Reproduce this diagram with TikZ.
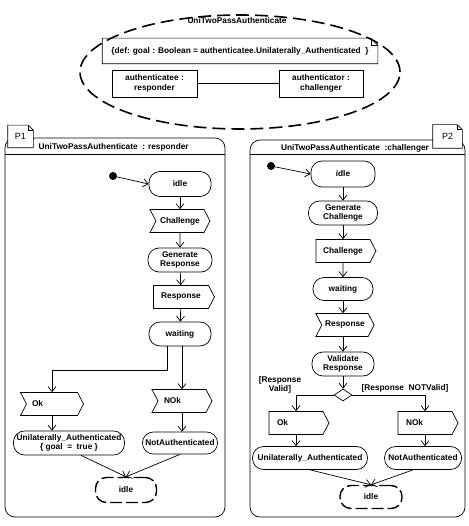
\documentclass[tikz,border=0pt]{standalone}
\usepackage{fontspec}
\setmainfont{Liberation Sans}
\usetikzlibrary{arrows.meta, shapes.geometric, shapes.symbols}

\tikzset{
  state/.style={rectangle, draw, rounded corners=11, minimum height=24, inner xsep=3},
  sendsig/.style={signal, draw, signal to=east, signal pointer angle=125, minimum height=23, align=left},
  recvsig/.style={signal, draw, signal from=west, signal pointer angle=125, minimum height=23, align=left},
  finstate/.style={state, line width=1.4pt, dash pattern=on 12pt off 4pt},
  initdot/.style={circle, fill, inner sep=0, minimum size=8},
  arr/.style={-{Straight Barb[length=5pt,width=8pt]}},
  tab/.style={fill=white, minimum width=25, minimum height=22, font=\fontsize{9}{10}\selectfont}
}

\begin{document}
\begin{tikzpicture}[x=1pt, y=-1pt, line width=0.7pt,
    every node/.style={font=\fontsize{8.3}{9.6}\selectfont\bfseries, align=center}]
  \useasboundingbox (0,0) rectangle (468,526);

  % collaboration
  \node[ellipse, draw, line width=1.6pt, dash pattern=on 13pt off 6pt, minimum width=320, minimum height=114] at (240,72) (coll) {};
  \node at (237,21) (colltitle) {UniTwoPassAuthenticate};
  \node[minimum width=275, minimum height=25] at (240,51) (goal) {\{def: goal : Boolean = authenticatee.Unilaterally\_Authenticated~~\}};
  \draw (goal.south west) -- (goal.north west) -- ([xshift=-7]goal.north east) -- ([yshift=-7]goal.north east) -- (goal.south east) -- cycle;
  \draw ([xshift=-7]goal.north east) |- ([yshift=-7]goal.north east);
  \node[draw, minimum width=85, minimum height=27] at (154.5,83.5) (ratee) {authenticatee :\\responder};
  \node[draw, minimum width=84, minimum height=27] at (321,83.5) (rator) {authenticator :\\challenger};
  \draw (ratee) -- (rator);

  % responder
  \draw[rounded corners=10] (5,138) rectangle (225,517);
  \draw (5,154) -- (225,154);
  \node[tab] at (20.5,136.5) (p1) {P1};
  \draw (p1.south west) -- (p1.north west) -- ([xshift=-5]p1.north east) -- ([yshift=-5]p1.north east) -- (p1.south east) -- cycle;
  \draw ([xshift=-5]p1.north east) |- ([yshift=-5]p1.north east);
  \node[anchor=west] at (35,147) (rtitle) {UniTwoPassAuthenticate~~: responder};

  \node[initdot] at (113,176) (rinit) {};
  \node[state, minimum width=62, minimum height=25] at (180,184) (ridle) {idle};
  \node[recvsig, minimum width=60] at (180,221) (rchal) {Challenge};
  \node[state, minimum width=64] at (180,260) (rgen) {Generate\\Response};
  \node[sendsig, minimum width=61] at (181,297) (rresp) {Response};
  \node[state, minimum width=62] at (180,334) (rwait) {waiting};
  \node[recvsig, minimum width=63, text width=40] at (52,404) (rok) {Ok};
  \node[recvsig, minimum width=60, text width=36] at (182,401) (rnok) {NOk};
  \node[state, minimum width=111] at (69,443) (rua) {Unilaterally\_Authenticated\\\{ goal~~=~~true \}};
  \node[state, minimum width=75, minimum height=22] at (180,443) (rna) {NotAuthenticated};
  \node[finstate, minimum width=61, minimum height=25] at (126,490) (rfin) {idle};

  \draw[arr] (rinit) -- (ridle.west);
  \draw[arr] (ridle) -- (rchal);
  \draw[arr] (rchal) -- (rgen);
  \draw[arr] (rgen) -- (rresp);
  \draw[arr] (rresp) -- (rwait);
  \draw[arr] ([xshift=-13]rwait.south) -- ++(0,24) -| (rok.north);
  \draw[arr] (rnok.north |- rwait.south) -- (rnok.north);
  \draw[arr] (rok.south) -- (rok.south |- rua.north);
  \draw[arr] (rnok.south) -- (rnok.south |- rna.north);
  \draw[arr] ([xshift=12]rua.south) -- (rfin.north);
  \draw[arr] (rna.south) -- (rfin.north);

  % challenger
  \draw[rounded corners=10] (250,140) rectangle (465,517);
  \draw (250,154) -- (465,154);
  \node[tab, minimum width=29, minimum height=23] at (447.5,136.5) (p2) {P2};
  \draw (p2.south west) -- (p2.north west) -- ([xshift=-5]p2.north east) -- ([yshift=-5]p2.north east) -- (p2.south east) -- cycle;
  \draw ([xshift=-5]p2.north east) |- ([yshift=-5]p2.north east);
  \node at (355,148) (ctitle) {UniTwoPassAuthenticate~~:challenger};

  \node[initdot] at (271,166) (cinit) {};
  \node[state, minimum width=64, minimum height=26] at (343,174) (cidle) {idle};
  \node[state, minimum width=69] at (343,213) (cgen) {Generate\\Challenge};
  \node[sendsig, minimum width=60] at (343,251) (cchal) {Challenge};
  \node[state, minimum width=60, minimum height=23] at (343,289) (cwait) {waiting};
  \node[recvsig, minimum width=57] at (345,325) (cresp) {Response};
  \node[state, minimum width=62] at (343,364) (cval) {Validate\\Response};
  \node[diamond, draw, minimum width=18, minimum height=12, inner sep=0] at (343,395) (cdec) {};
  \node[sendsig, minimum width=60, text width=38] at (296,423) (cok) {Ok};
  \node[sendsig, minimum width=60, text width=38] at (425,423) (cnok) {NOk};
  \node[state, minimum width=115, minimum height=23] at (310,458) (cua) {Unilaterally\_Authenticated};
  \node[state, minimum width=77, minimum height=23] at (423,458) (cna) {NotAuthenticated};
  \node[finstate, minimum width=62, minimum height=23] at (371,497) (cfin) {idle};
  \node at (280,385) (lvalid) {[Response\\Valid]};
  \node at (405,388) (lnotvalid) {[Response~~NOTValid]};

  \draw[arr] (cinit) -- (cidle.west);
  \draw[arr] (cidle) -- (cgen);
  \draw[arr] (cgen) -- (cchal);
  \draw[arr] (cchal) -- (cwait);
  \draw[arr] (cwait) -- (cwait.south |- cresp.north);
  \draw[arr] (cwait.south |- cresp.south) -- (cval);
  \draw[arr] (cval) -- (cdec);
  \draw[arr] (cdec.west) -| (cok.north);
  \draw[arr] (cdec.east) -| (cnok.north);
  \draw[arr] (cok.south) -- (cok.south |- cua.north);
  \draw[arr] (cnok.south) -- (cnok.south |- cna.north);
  \draw[arr] (cua.south) -- (cfin.north);
  \draw[arr] ([xshift=-10]cna.south) -- (cfin.north);
\end{tikzpicture}
\end{document}
